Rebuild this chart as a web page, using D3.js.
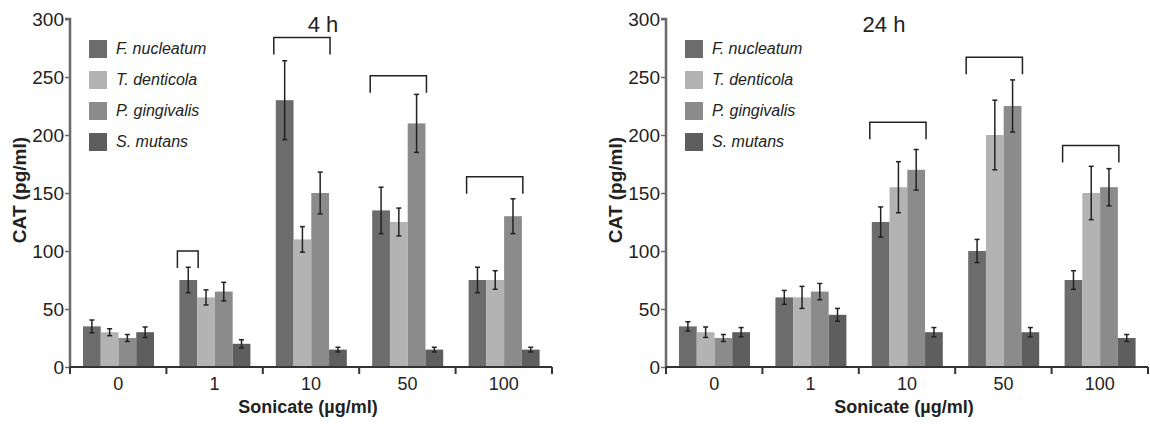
<!DOCTYPE html>
<html>
<head>
<meta charset="utf-8">
<script src="https://cdn.jsdelivr.net/npm/d3@7"></script>
<style>
  body { margin: 0; background: #fff; }
  svg text { font-family: "Liberation Sans", Arial, sans-serif; fill: #222; }
</style>
</head>
<body>
<div id="chart"></div>
<script>
// categories and series
var categories = ["0", "1", "10", "50", "100"]
var series = ["F. nucleatum", "T. denticola", "P. gingivalis", "S. mutans"]
var colors = ["#6c6c6c", "#b3b3b3", "#8b8b8b", "#5e5e5e"]
var yTicks = [0, 50, 100, 150, 200, 250, 300]

// 4 h panel: one row per category, one value per series
var values4h = [
  [35, 30, 25, 30],
  [75, 60, 65, 20],
  [230, 110, 150, 15],
  [135, 125, 210, 15],
  [75, 75, 130, 15]
]
var errors4h = [
  [5.5, 3, 3, 4.5],
  [11, 6.5, 8, 3.5],
  [34, 11, 18, 2],
  [20, 12, 25, 2],
  [11, 8, 15, 2]
]
// bracket: category, first series, last series, height
var brackets4h = [
  ["1", 0, 0, 100],
  ["10", 0, 2, 284],
  ["50", 0, 2, 251],
  ["100", 0, 2, 164]
]

// 24 h panel
var values24h = [
  [35, 30, 25, 30],
  [60, 60, 65, 45],
  [125, 155, 170, 30],
  [100, 200, 225, 30],
  [75, 150, 155, 25]
]
var errors24h = [
  [4, 4.5, 3, 4],
  [6, 9.5, 7, 5.5],
  [13, 22, 17.5, 4],
  [10, 30, 22.5, 4],
  [8, 23, 16, 3]
]
var brackets24h = [
  ["10", 0, 2, 211],
  ["50", 0, 2, 267],
  ["100", 0, 2, 191]
]

const WIDTH = 482
const HEIGHT = 348

var svg = d3.select("#chart").append("svg")
  .attr("width", 1150)
  .attr("height", 424)

function drawPanel(left, title, titleX, values, errors, brackets) {
  var g = svg.append("g")
    .attr("transform", `translate(${left}, 19)`)

  // Scales
  var x = d3.scaleBand().domain(categories).range([0, WIDTH])
  var xSub = d3.scaleBand().domain(d3.range(series.length)).range([13, 84])
  var y = d3.scaleLinear().domain([0, 300]).range([HEIGHT, 0])
  var bw = xSub.bandwidth()

  // Bars
  var groups = g.selectAll(".grp")
    .data(categories)
    .enter().append("g")
    .attr("transform", d => `translate(${x(d)}, 0)`)

  groups.each(function(c, ci) {
    var grp = d3.select(this)
    var rows = series.map((s, si) => ({ si: si, v: values[ci][si], e: errors[ci][si] }))
    grp.selectAll("rect")
      .data(rows)
      .enter().append("rect")
      .attr("x", d => xSub(d.si))
      .attr("y", d => y(d.v))
      .attr("width", bw)
      .attr("height", d => HEIGHT - y(d.v))
      .attr("fill", d => colors[d.si])

    // error bars
    var eb = grp.selectAll(".err")
      .data(rows)
      .enter().append("g")
      .attr("stroke", "#222")
      .attr("stroke-width", 1.5)
    eb.append("line")
      .attr("x1", d => xSub(d.si) + bw / 2)
      .attr("x2", d => xSub(d.si) + bw / 2)
      .attr("y1", d => y(d.v + d.e))
      .attr("y2", d => y(d.v - d.e))
    eb.append("line")
      .attr("x1", d => xSub(d.si) + bw / 2 - 2.5)
      .attr("x2", d => xSub(d.si) + bw / 2 + 2.5)
      .attr("y1", d => y(d.v + d.e))
      .attr("y2", d => y(d.v + d.e))
    eb.append("line")
      .attr("x1", d => xSub(d.si) + bw / 2 - 2.5)
      .attr("x2", d => xSub(d.si) + bw / 2 + 2.5)
      .attr("y1", d => y(d.v - d.e))
      .attr("y2", d => y(d.v - d.e))
  })

  // Brackets
  g.selectAll(".bracket")
    .data(brackets)
    .enter().append("path")
    .attr("fill", "none")
    .attr("stroke", "#222")
    .attr("stroke-width", 1.5)
    .attr("d", d => {
      var x0 = x(d[0]) + xSub(d[1]) - 2
      var x1 = x(d[0]) + xSub(d[2]) + bw + 1
      var yt = y(d[3])
      return `M${x0},${yt + 17}V${yt}H${x1}V${yt + 17}`
    })

  // Y Axis
  var yAxis = g.append("g")
    .call(d3.axisLeft(y).tickValues(yTicks).tickSize(5).tickPadding(1))
  yAxis.select(".domain").attr("stroke", "#6a6a6a").attr("stroke-width", 2.5)
    .attr("d", `M-5,0H0V${HEIGHT}`)
  yAxis.selectAll(".tick line").attr("stroke", "#6a6a6a").attr("stroke-width", 1.5)
  yAxis.selectAll("text").attr("font-size", "19px").attr("fill", "#222")
    .style("font-family", "Liberation Sans, Arial, sans-serif")

  // X Axis
  var xAxis = g.append("g")
    .attr("transform", `translate(0, ${HEIGHT})`)
    .call(d3.axisBottom(x).tickSize(0).tickPadding(10))
  xAxis.select(".domain").attr("stroke", "#333").attr("stroke-width", 2)
    .attr("d", `M0,0H${WIDTH}`)
  xAxis.selectAll("text").attr("font-size", "18px").attr("fill", "#222")
    .style("font-family", "Liberation Sans, Arial, sans-serif")
  xAxis.selectAll(".bound")
    .data(categories.map(c => x(c)).concat([WIDTH]))
    .enter().append("line")
    .attr("x1", d => d).attr("x2", d => d)
    .attr("y1", 0).attr("y2", 7)
    .attr("stroke", "#333").attr("stroke-width", 2)

  // Labels
  g.append("text")
    .attr("x", WIDTH / 2 - 3)
    .attr("y", HEIGHT + 46)
    .attr("text-anchor", "middle")
    .attr("font-size", "18px")
    .attr("font-weight", "bold")
    .text("Sonicate (\u00b5g/ml)")
  g.append("text")
    .attr("transform", "rotate(-90)")
    .attr("x", -171)
    .attr("y", -44)
    .attr("text-anchor", "middle")
    .attr("font-size", "19px")
    .attr("font-weight", "bold")
    .text("CAT (pg/ml)")
  g.append("text")
    .attr("x", titleX)
    .attr("y", 13)
    .attr("text-anchor", "middle")
    .attr("font-size", "22px")
    .text(title)

  // Legend
  var legend = g.selectAll(".legend")
    .data(series)
    .enter().append("g")
    .attr("transform", (d, i) => `translate(19, ${21 + i * 31})`)
  legend.append("rect")
    .attr("width", 18).attr("height", 18)
    .attr("fill", (d, i) => colors[i])
  legend.append("text")
    .attr("x", 27).attr("y", 14)
    .attr("font-size", "16px")
    .attr("font-style", "italic")
    .text(d => d)
}

drawPanel(70, "4 h", 253, values4h, errors4h, brackets4h)
drawPanel(666, "24 h", 218, values24h, errors24h, brackets24h)
</script>
</body>
</html>
